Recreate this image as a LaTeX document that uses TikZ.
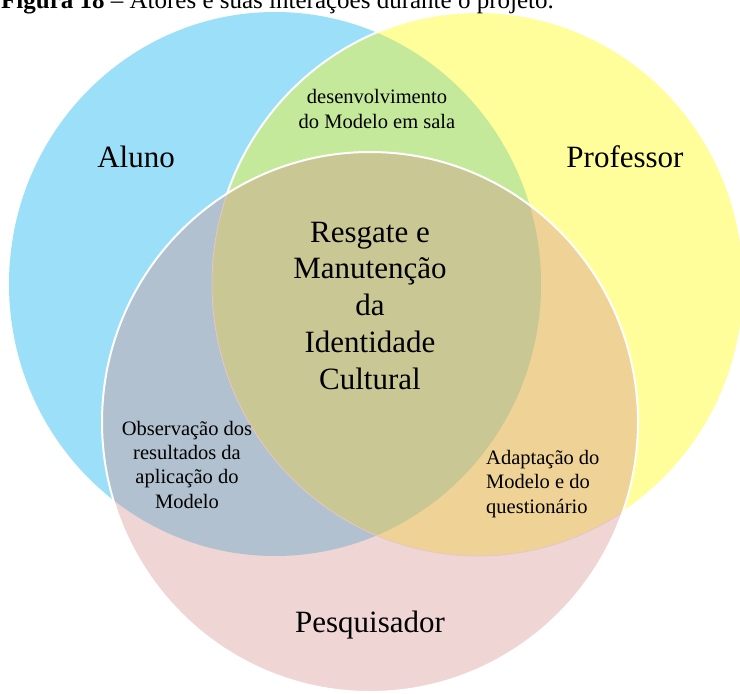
\documentclass[tikz,border=0pt]{standalone}
\usepackage{fontspec}
\setmainfont{Liberation Serif}
\definecolor{alunofill}{HTML}{9BDFF8}
\definecolor{professorfill}{HTML}{FFFE9A}
\definecolor{pesqfill}{HTML}{F0D5D5}
\definecolor{alprfill}{HTML}{C5E99B}
\definecolor{alpefill}{HTML}{B1C1CF}
\definecolor{prpefill}{HTML}{EFD296}
\definecolor{allfill}{HTML}{C9C794}
\definecolor{softrim}{HTML}{E6C6C6}
\begin{document}
\begin{tikzpicture}[x=1pt,y=-1pt,
  biglabel/.style={font=\fontsize{31}{36.7}\selectfont, anchor=base, align=center, inner sep=0pt},
  smalllabel/.style={font=\fontsize{20.5}{24.3}\selectfont, anchor=base, inner sep=0pt},
  caption/.style={font=\fontsize{25}{30}\selectfont, anchor=base west, inner sep=0pt},
  whiterim/.style={draw=white, line width=2pt}]
\clip (0,0) rectangle (740,694);
\fill[white] (0,0) rectangle (740,694);

% the three actors
\coordinate (cA) at (275,284);
\coordinate (cP) at (478,284);
\coordinate (cQ) at (370,422);

% Aluno and Professor
\fill[alunofill] (cA) ellipse [x radius=266pt, y radius=272pt];
\fill[professorfill] (cP) ellipse [x radius=266pt, y radius=272pt];
\begin{scope}
  \clip (cA) ellipse [x radius=266pt, y radius=272pt];
  \fill[alprfill] (cP) ellipse [x radius=266pt, y radius=272pt];
\end{scope}
\draw[whiterim] (cP) ellipse [x radius=266pt, y radius=272pt];

% Pesquisador and its overlaps
\fill[pesqfill] (cQ) ellipse [x radius=268pt, y radius=270pt];
\begin{scope}
  \clip (cQ) ellipse [x radius=268pt, y radius=270pt];
  \begin{scope}
    \clip (cA) ellipse [x radius=266pt, y radius=272pt];
    \fill[alpefill] (cQ) ellipse [x radius=268pt, y radius=270pt];
  \end{scope}
  \begin{scope}
    \clip (cP) ellipse [x radius=266pt, y radius=272pt];
    \fill[prpefill] (cQ) ellipse [x radius=268pt, y radius=270pt];
    \clip (cA) ellipse [x radius=266pt, y radius=272pt];
    \fill[allfill] (cQ) ellipse [x radius=268pt, y radius=270pt];
  \end{scope}
  \draw[softrim, line width=0.8pt] (cP) ellipse [x radius=266pt, y radius=272pt];
\end{scope}
\draw[whiterim] (cQ) ellipse [x radius=268pt, y radius=270pt];

% caption, partly outside the page
\node[caption] (cap) at (1,8) {\textbf{Figura 18} – Atores e suas interações durante o projeto.};

% labels (multi-line nodes sit on the baseline of their last line)
\node[biglabel] (aluno) at (136,167) {Aluno};
\node[biglabel] (professor) at (625,167) {Professor};
\node[biglabel] (pesquisador) at (370,632) {Pesquisador};
\node[biglabel] (centre) at (370,389) {Resgate e\\Manutenção\\da\\Identidade\\Cultural};
\node[smalllabel, align=center] (alpr) at (377,128) {desenvolvimento\\do Modelo em sala};
\node[smalllabel, align=center] (alpe) at (187,508) {Observação dos\\resultados da\\aplicação do\\Modelo};
\node[smalllabel, align=left, anchor=base west] (prpe) at (486,513) {Adaptação do\\Modelo e do\\questionário};
\end{tikzpicture}
\end{document}
